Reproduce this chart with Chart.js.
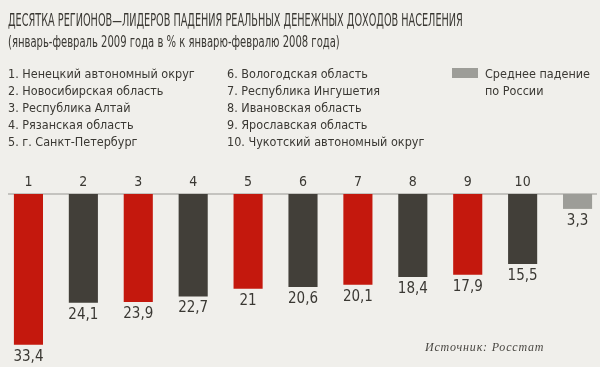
<!DOCTYPE html>
<html>
<head>
<meta charset="utf-8">
<script src="https://cdn.jsdelivr.net/npm/chart.js@4/dist/chart.umd.min.js"></script>
<style>
  html, body { margin: 0; padding: 0; }
  body { width: 600px; height: 367px; overflow: hidden; position: relative; background: #f0efeb; color: #3a3833; font-family: "DejaVu Sans Condensed", "Liberation Sans Narrow", sans-serif; }
  #chart { position: absolute; left: 0; top: 0; }
  .txt { position: absolute; white-space: nowrap; transform-origin: 0 0; }
  .title { left: 8px; top: 10px; font-size: 17px; }
  .sub { left: 8px; top: 33px; font-size: 15px; }
  .leg { font-size: 12.5px; }
  .swatch { position: absolute; left: 452px; top: 68px; width: 26px; height: 10px; background: #9d9d98; }
  .src { left: 425px; top: 340px; font-family: "Liberation Serif", "DejaVu Serif", serif; font-style: italic; font-size: 12px; letter-spacing: 0.8px; color: #4a4843; }
</style>
</head>
<body>
<canvas id="chart" width="605" height="367"></canvas>
<script>
// Data
const categories = ["1", "2", "3", "4", "5", "6", "7", "8", "9", "10", ""];
const values = [33.4, 24.1, 23.9, 22.7, 21, 20.6, 20.1, 18.4, 17.9, 15.5, 3.3];
const regionsLeft = [
    "1. Ненецкий автономный округ",
    "2. Новосибирская область",
    "3. Республика Алтай",
    "4. Рязанская область",
    "5. г. Санкт-Петербург"
];
const regionsRight = [
    "6. Вологодская область",
    "7. Республика Ингушетия",
    "8. Ивановская область",
    "9. Ярославская область",
    "10. Чукотский автономный округ"
];
const averageLabel = ["Среднее падение", "по России"];
const titleText = "ДЕСЯТКА РЕГИОНОВ—ЛИДЕРОВ ПАДЕНИЯ РЕАЛЬНЫХ ДЕНЕЖНЫХ ДОХОДОВ НАСЕЛЕНИЯ";
const subtitleText = "(январь-февраль 2009 года в % к январю-февралю 2008 года)";
const sourceText = "Источник:  Росстат";

const RED = "#c4180d", DARK = "#423f39", GREY = "#9d9d98";
const barColors = values.map((v, i) => i === values.length - 1 ? GREY : (i % 2 === 0 ? RED : DARK));

// Text helpers
const addText = (cls, text, left, top, fitWidth) => {
    const node = document.createElement("div");
    node.className = "txt " + cls;
    node.textContent = text;
    if (left != null) node.style.left = left + "px";
    if (top != null) node.style.top = top + "px";
    document.body.appendChild(node);
    if (fitWidth) node.style.transform = `scaleX(${fitWidth / node.offsetWidth})`;
    return node;
};

addText("title", titleText, null, null, 455);
addText("sub", subtitleText, null, null, 332);
regionsLeft.forEach((t, i) => addText("leg", t, 8, 66 + i * 17));
regionsRight.forEach((t, i) => addText("leg", t, 227, 66 + i * 17));
averageLabel.forEach((t, i) => addText("leg", t, 485, 66 + i * 17));
const sw = document.createElement("div");
sw.className = "swatch";
document.body.appendChild(sw);
addText("src", sourceText);

// Chart
const labelsPlugin = {
    id: "barLabels",
    beforeDatasetsDraw(chart) {
        const { ctx, chartArea } = chart;
        ctx.save();
        ctx.strokeStyle = "#c4c3bf";
        ctx.lineWidth = 2;
        ctx.beginPath();
        ctx.moveTo(8, chartArea.top);
        ctx.lineTo(597, chartArea.top);
        ctx.stroke();
        ctx.restore();
    },
    afterDatasetsDraw(chart) {
        const { ctx, chartArea } = chart;
        const meta = chart.getDatasetMeta(0);
        ctx.save();
        ctx.fillStyle = "#3a3833";
        ctx.textAlign = "center";
        ctx.textBaseline = "middle";
        meta.data.forEach((bar, i) => {
            ctx.font = '14px "DejaVu Sans Condensed"';
            ctx.fillText(categories[i], bar.x, chartArea.top - 12);
            ctx.font = '15px "DejaVu Sans Condensed"';
            ctx.fillText(String(values[i]).replace(".", ","), bar.x, bar.y + 12);
        });
        ctx.restore();
    }
};

new Chart(document.getElementById("chart"), {
    type: "bar",
    data: {
        labels: categories,
        datasets: [{
            data: values,
            backgroundColor: barColors,
            borderWidth: 0,
            barPercentage: 0.53,
            categoryPercentage: 1
        }]
    },
    options: {
        responsive: false,
        devicePixelRatio: 1,
        animation: false,
        layout: { padding: { top: 194, left: 1, right: 0, bottom: 0 } },
        plugins: { legend: { display: false }, tooltip: { enabled: false } },
        scales: {
            x: { display: false, offset: true, grid: { display: false } },
            y: { display: false, reverse: true, min: 0, max: 38.3 }
        }
    },
    plugins: [labelsPlugin]
});
</script>
</body>
</html>
